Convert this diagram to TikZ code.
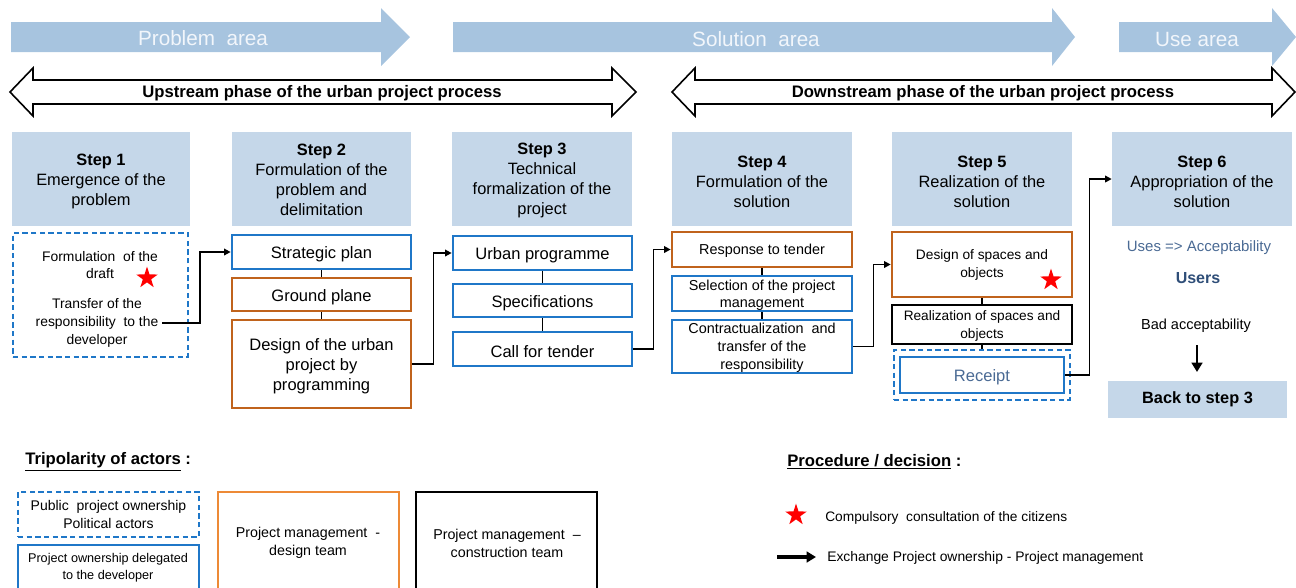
\documentclass[tikz,border=0pt]{standalone}
\usepackage{fontspec}
\setmainfont{Liberation Sans}
\usetikzlibrary{fit,arrows.meta,shapes.geometric}
\definecolor{arrowblue}{HTML}{A7C4DF}
\definecolor{headblue}{HTML}{C5D7E9}
\definecolor{bblue}{HTML}{1F77C8}
\definecolor{borange}{HTML}{C0631C}
\definecolor{lorange}{HTML}{ED8A36}
\definecolor{slate}{HTML}{4A6A94}
\definecolor{slated}{HTML}{2F4E78}
\definecolor{areatext}{HTML}{F2F6FB}
\newcommand\fsz[2]{\fontsize{#1}{#2}\selectfont}
\tikzset{
  hdr/.style={fill=headblue, inner sep=0pt},
  bbox/.style={draw=bblue, line width=2pt, inner sep=0pt},
  obox/.style={draw=borange, line width=2pt, inner sep=0pt},
  kbox/.style={draw=black, line width=2pt, inner sep=0pt},
  dbox/.style={draw=bblue, line width=1.6pt, dash pattern=on 4pt off 2.5pt, inner sep=0pt},
  conn/.style={draw=black, line width=1.1pt, -{Triangle[length=5pt,width=5pt]}},
  link/.style={draw=black, line width=0.8pt},
  redstar/.style={star, star points=5, star point ratio=2.6, fill=red, inner sep=0pt, minimum size=17pt},
  area/.style={fill=arrowblue},
  areatxt/.style={text=areatext, font=\fsz{15.5}{18}},
  phase/.style={draw=black, line width=1.2pt, fill=white, line join=miter},
  phasetxt/.style={font=\bfseries\fsz{12.5}{15}},
  txt/.style={inner sep=0pt, align=center},
  htxt/.style={inner sep=0pt, align=center, yshift=-1.8pt, font=\fsz{12.3}{15}},
  ltxt/.style={inner sep=0pt, align=center, yshift=-1.8pt, font=\fsz{12.4}{15}},
  stxt/.style={inner sep=0pt, align=center, yshift=-1.2pt, font=\fsz{10.8}{13.5}},
}
\begin{document}
\begin{tikzpicture}[x=0.75pt,y=-0.75pt]
\useasboundingbox (0,0) rectangle (1296,587);
\clip (0,0) rectangle (1296,587);

% top area arrows
\fill[area] (11,22) -- (381,22) -- (381,8) -- (410,37) -- (381,66) -- (381,52) -- (11,52) -- cycle;
\fill[area] (453,22) -- (1052,22) -- (1052,8) -- (1075,37) -- (1052,66) -- (1052,52) -- (453,52) -- cycle;
\fill[area] (1119,22) -- (1272,22) -- (1272,8) -- (1296,37) -- (1272,66) -- (1272,52) -- (1119,52) -- cycle;
\node[areatxt] (pa) at (203,38) {Problem\ \ area};
\node[areatxt] (sa) at (756,39) {Solution\ \ area};
\node[areatxt] (ua) at (1197,39) {Use area};

% phase double arrows
\draw[phase] (10,92) -- (33,68) -- (33,80) -- (612,80) -- (612,68) -- (636,92) -- (612,116) -- (612,104) -- (33,104) -- (33,116) -- cycle;
\draw[phase] (672,92) -- (695,68) -- (695,80) -- (1272,80) -- (1272,68) -- (1295,92) -- (1272,116) -- (1272,104) -- (695,104) -- (695,116) -- cycle;
\node[phasetxt] (up1) at (322,93) {Upstream phase of the urban project process};
\node[phasetxt] (dn1) at (983,93) {Downstream phase of the urban project process};

% step headers
\node[hdr, fit={(12,132)(190,226)}] (s1) {};
\node[hdr, fit={(232,132)(411,226)}] (s2) {};
\node[hdr, fit={(452,132)(632,226)}] (s3) {};
\node[hdr, fit={(672,132)(852,226)}] (s4) {};
\node[hdr, fit={(892,132)(1072,226)}] (s5) {};
\node[hdr, fit={(1112,132)(1292,226)}] (s6) {};
\node[htxt] at (s1.center) {\textbf{Step 1}\\Emergence of the\\problem};
\node[htxt, yshift=0.8pt] at (s2.center) {\textbf{Step 2}\\Formulation of the\\problem and\\delimitation};
\node[htxt, yshift=0.8pt] at (s3.center) {\textbf{Step 3}\\Technical\\formalization of the\\project};
\node[htxt] at (s4.center) {\textbf{Step 4}\\Formulation of the\\solution};
\node[htxt] at (s5.center) {\textbf{Step 5}\\Realization of the\\solution};
\node[htxt] at (s6.center) {\textbf{Step 6}\\Appropriation of the\\solution};

% step 1
\node[dbox, fit={(13,233)(188,357)}] (b1) {};
\node[txt, font=\fsz{10.4}{13}] (t1a) at (100,265) {Formulation\ \ of the\\draft};
\node[txt, font=\fsz{10.4}{13.5}] (t1b) at (97,323) {Transfer of the\\responsibility\ \ to the\\developer};
\node[redstar] (st1) at (147,278) {};

% step 2
\node[bbox, fit={(232,235)(411,269)}] (sp) {};
\node[obox, fit={(232,278)(411,311)}] (gp) {};
\node[obox, fit={(232,320)(411,408)}] (dp) {};
\node[ltxt] at (sp.center) {Strategic plan};
\node[ltxt] at (gp.center) {Ground plane};
\node[ltxt] at (dp.center) {Design of the urban\\project by\\programming};
\draw[link] (sp.south) -- (gp.north);
\draw[link] (gp.south) -- (dp.north);

% step 3
\node[bbox, fit={(453,236)(632,270)}] (upg) {};
\node[bbox, fit={(453,284)(632,317)}] (spc) {};
\node[bbox, fit={(453,332)(632,366)}] (cft) {};
\node[ltxt] at (upg.center) {Urban programme};
\node[ltxt] at (spc.center) {Specifications};
\node[ltxt] at (cft.center) {Call for tender};
\draw[link] (upg.south) -- (spc.north);
\draw[link] (spc.south) -- (cft.north);

% step 4
\node[obox, fit={(672,232)(852,267)}] (rtt) {};
\node[bbox, fit={(672,276)(852,311)}] (spm) {};
\node[bbox, fit={(672,320)(852,373)}] (ctr) {};
\draw[link] (rtt.south) -- (spm.north);
\draw[link] (spm.south) -- (ctr.north);
\node[stxt] at (rtt.center) {Response to tender};
\node[stxt, font=\fsz{10.8}{12.8}] at (spm.center) {Selection of the project\\management};
\node[stxt] at (ctr.center) {Contractualization\ \ and\\transfer of the\\responsibility};

% step 5
\node[obox, fit={(892,232)(1072,297)}] (dso) {};
\node[txt, font=\fsz{10.3}{13}] (dsot) at (982,265) {Design of spaces and\\objects};
\node[redstar] (st2) at (1051,280) {};
\node[kbox, fit={(892,305)(1072,344)}] (rso) {};
\node[dbox, fit={(894,350)(1070,400)}] (rco) {};
\node[bbox, fit={(900,357)(1064,393)}] (rc) {};
\draw[link] (dso.south) -- (rso.north);
\draw[link] (rso.south) -- (rco.north);
\node[stxt, font=\fsz{10.25}{13}] at (rso.center) {Realization of spaces and\\objects};
\node[ltxt, text=slate] at (rc.center) {Receipt};

% connectors between steps
\coordinate (a1) at (162,323);
\draw[conn] (a1) -- (200,323) |- (sp.west);
\draw[conn] (dp.east) -- ++(21,0) |- (upg.west);
\draw[conn] (cft.east) -- ++(20,0) |- (rtt.west);
\draw[conn] (ctr.east) -- ++(20,0) |- (dso.west);
\draw[conn] (rc.east) -- ++(24,0) |- (s6.west);

% step 6
\node[txt, text=slate, font=\fsz{11.25}{13}] (uses) at (1199,248) {Uses => Acceptability};
\node[txt, text=slated, font=\bfseries\fsz{12}{14}] (usr) at (1198,278) {Users};
\node[txt, font=\fsz{10.9}{13}] (bad) at (1196,326) {Bad acceptability};
\node[hdr, fit={(1108,381)(1287,418)}] (back) {};
\node[txt, font=\bfseries\fsz{12.25}{14}] at (back.center) {Back to step 3};
\coordinate (bda) at (1197,345);
\draw[draw=black, line width=2.2pt, -{Triangle[length=7pt,width=8pt]}] (bda) -- (1197,372);

% legend left
\node[anchor=west, inner sep=0pt, font=\bfseries\fsz{12.5}{14}] (tri) at (25,462) {\underline{Tripolarity of actors} :};
\node[dbox, fit={(18,492)(199,537)}] (lg1) {};
\node[txt, font=\fsz{10.5}{13}] at (lg1.center) {Public\ \ project ownership\\Political actors};
\node[bbox, fit={(18,545)(199,600)}] (lg2) {};
\node[txt, font=\fsz{9.5}{12.5}] (lg2t) at (108,568) {Project ownership delegated\\to the developer};
\node[draw=lorange, line width=2pt, inner sep=0pt, fit={(218,492)(399,600)}] (lg3) {};
\node[txt, font=\fsz{10.7}{13.5}] (lg3t) at (308,543) {Project management\ \ -\\design team};
\node[kbox, fit={(416,492)(597,600)}] (lg4) {};
\node[txt, font=\fsz{10.7}{13.5}] (lg4t) at (507,543) {Project management\ \ --\\construction team};

% legend right
\node[anchor=west, inner sep=0pt, font=\bfseries\fsz{12.5}{14}] (proc) at (787,462) {\underline{Procedure / decision} :};
\node[redstar] (st3) at (796,515) {};
\node[anchor=west, inner sep=0pt, font=\fsz{10.3}{12}] (cc) at (825,518) {Compulsory\ \ consultation of the citizens};
\coordinate (la) at (777,557);
\coordinate (lb) at (816,557);
\node[anchor=west, inner sep=0pt, font=\fsz{10.4}{12}] (ex) at (827,558) {Exchange Project ownership - Project management};
\draw[draw=black, line width=2.4pt, -{Triangle[length=7pt,width=8pt]}] (la) -- (lb);
\end{tikzpicture}
\end{document}
